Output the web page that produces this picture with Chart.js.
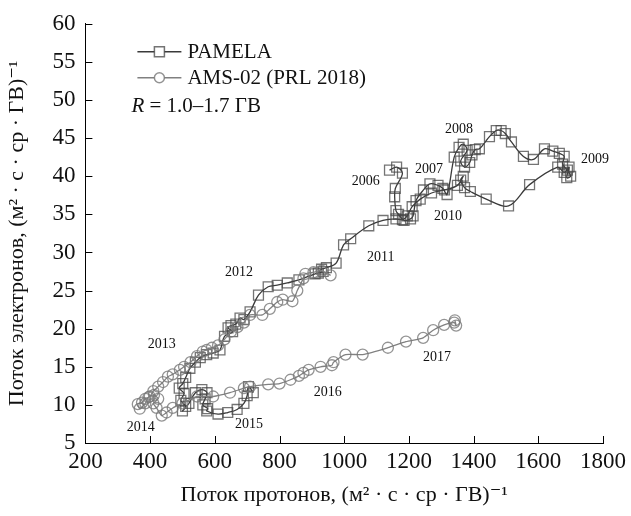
<!DOCTYPE html>
<html>
<head>
<meta charset="utf-8">
<script src="https://cdn.jsdelivr.net/npm/chart.js@4.4.1/dist/chart.umd.min.js"></script>
<style>
  html, body { margin: 0; padding: 0; background: #fff; }
  #wrap { width: 631px; height: 516px; }
</style>
</head>
<body>
<div id="wrap"><canvas id="chart" width="631" height="516"></canvas></div>
<script>
// PAMELA, протоны (x) и электроны (y), 2006 -> 2015
const pamelaX = [1140, 1162, 1180, 1158, 1156, 1160, 1168,
  1185, 1205, 1213, 1222, 1245, 1265, 1290, 1305, 1318, 1340,
  1355, 1368, 1380, 1360, 1372, 1388, 1395, 1405, 1418, 1449, 1470, 1485, 1498, 1517, 1554, 1585, 1619, 1645, 1665, 1680,
  1675, 1690, 1700, 1688, 1695, 1680, 1660,
  1573, 1508, 1439, 1390, 1372, 1360, 1368, 1350,
  1310, 1270, 1235, 1210, 1195, 1180, 1160, 1120, 1076, 1020, 998, 975, 945, 930, 920, 935, 910,
  860, 824, 793, 765, 735, 709, 690, 678, 665, 650, 641, 655, 630,
  616, 595, 575, 555, 540, 523, 510, 501,
  490, 505, 495, 510, 500, 520, 540, 560, 576, 570, 563, 578, 575,
  610, 640, 669, 690, 700, 704, 719];
const pamelaY = [40.8, 41.2, 40.4, 38.4, 37.3, 35.5, 35.0,
  34.2, 34.4, 34.8, 36.8, 38.2, 39.0, 38.8, 38.4, 37.6, 42.5,
  43.8, 44.2, 43.4, 42.0, 41.2, 41.8, 42.8, 43.5, 43.6, 45.2, 46.0, 46.0, 45.6, 44.5, 42.6, 42.2, 43.6, 43.3, 43.0, 42.6,
  41.6, 40.8, 40.0, 39.8, 41.2, 40.5, 41.2,
  38.9, 36.1, 37.0, 38.0, 38.5, 39.5, 40.0, 38.8,
  38.2, 37.8, 37.0, 36.0, 34.8, 34.3, 34.4, 34.2, 33.5, 31.8, 31.0, 28.6, 28.0, 27.8, 27.3, 27.5, 27.2,
  26.4, 26.0, 25.7, 25.5, 24.4, 22.2, 21.2, 21.4, 20.6, 20.4, 20.1, 19.6, 19.0,
  17.2, 16.8, 16.6, 16.2, 15.6, 14.8, 13.6, 12.8,
  12.2, 11.5, 10.6, 9.8, 9.2, 10.2, 11.6, 12.0, 11.6, 10.8, 10.0, 9.5, 9.2,
  8.8, 9.0, 9.4, 10.2, 11.2, 12.4, 11.6];

// AMS-02 (PRL 2018), 2011 -> 2017
const amsX = [958, 930, 905, 880, 874, 855, 840, 810, 793, 770, 747, 709, 690, 670, 650, 630, 610, 591, 575, 563,
  545, 525, 505, 492, 470, 455, 440, 425, 410, 399, 385, 375, 362, 368, 385, 395, 412, 425, 410, 420, 436, 451,
  470, 500, 545, 595, 647, 690, 709, 765, 800, 834, 860, 874, 890, 927, 962, 967, 1004, 1057, 1135, 1191,
  1244, 1275, 1309, 1340, 1346, 1342];
const amsY = [27.0, 27.6, 27.4, 27.2, 26.6, 25.0, 23.6, 23.8, 23.5, 22.6, 21.8, 21.8, 20.8, 20.2, 19.6, 18.6, 17.8, 17.5, 17.2, 17.0,
  16.4, 15.6, 15.0, 14.6, 14.0, 13.7, 13.0, 12.4, 11.8, 11.1, 10.8, 10.3, 10.1, 9.5, 10.2, 11.0, 11.3, 10.8, 10.2, 9.6, 8.6, 9.0,
  9.6, 10.2, 11.1, 11.1, 11.6, 12.2, 12.4, 12.7, 12.8, 13.3, 13.8, 14.2, 14.6, 15.0, 15.2, 15.6, 16.6, 16.6, 17.5, 18.3,
  18.8, 19.8, 20.5, 20.8, 20.4, 21.1];

// подписи годов
const yearText = ['2006', '2007', '2008', '2009', '2010', '2011', '2012', '2013', '2014', '2015', '2016', '2017'];
const yearX = [1067, 1262, 1355, 1775, 1321, 1113, 675, 436, 371, 706, 949, 1287];
const yearY = [39.3, 40.9, 46.1, 42.2, 34.8, 29.3, 27.4, 17.9, 7.1, 7.5, 11.6, 16.3];

const xTicks = [200, 400, 600, 800, 1000, 1200, 1400, 1600, 1800];
const yTicks = [5, 10, 15, 20, 25, 30, 35, 40, 45, 50, 55, 60];

const serif = '"Liberation Serif", "DejaVu Serif", serif';
const pamelaLine = '#3a3a3a';
const pamelaMark = 'rgba(70,70,70,0.75)';
const amsLine = '#808080';
const amsMark = 'rgba(120,120,120,0.8)';

function toPoints(xs, ys) {
  return xs.map((x, i) => ({ x: x, y: ys[i] }));
}

// подписи, легенда и внутренние засечки
const extras = {
  id: 'extras',
  afterDraw(chart) {
    const ctx = chart.ctx;
    const sx = chart.scales.x, sy = chart.scales.y;
    const area = chart.chartArea;
    ctx.save();
    ctx.strokeStyle = '#000';
    ctx.lineWidth = 1;
    ctx.beginPath();
    xTicks.forEach(v => {
      const px = Math.round(sx.getPixelForValue(v)) + 0.5;
      ctx.moveTo(px, area.bottom);
      ctx.lineTo(px, area.bottom - 7);
    });
    yTicks.forEach(v => {
      const py = Math.round(sy.getPixelForValue(v)) + 0.5;
      ctx.moveTo(area.left, py);
      ctx.lineTo(area.left + 7, py);
    });
    ctx.stroke();

    ctx.fillStyle = '#111';
    ctx.font = '14px ' + serif;
    ctx.textAlign = 'center';
    ctx.textBaseline = 'middle';
    yearText.forEach((t, i) => {
      ctx.fillText(t, sx.getPixelForValue(yearX[i]), sy.getPixelForValue(yearY[i]));
    });

    // легенда
    const items = [
      { label: 'PAMELA', line: pamelaLine, mark: pamelaMark, shape: 'rect' },
      { label: 'AMS-02 (PRL 2018)', line: amsLine, mark: amsMark, shape: 'circle' }
    ];
    const lx = area.left + 52, ly = area.top + 28;
    items.forEach((it, i) => {
      const y = ly + i * 26;
      ctx.strokeStyle = it.line;
      ctx.lineWidth = 1.5;
      ctx.beginPath();
      ctx.moveTo(lx, y);
      ctx.lineTo(lx + 44, y);
      ctx.stroke();
      ctx.strokeStyle = it.mark;
      ctx.beginPath();
      if (it.shape === 'rect') ctx.rect(lx + 17, y - 5, 10, 10);
      else ctx.arc(lx + 22, y, 5, 0, Math.PI * 2);
      ctx.fillStyle = '#fff';
      ctx.fill();
      ctx.stroke();
      ctx.fillStyle = '#111';
      ctx.font = '21px ' + serif;
      ctx.textAlign = 'left';
      ctx.fillText(it.label, lx + 50, y + 1);
    });
    const ry = ly + 55;
    ctx.font = 'italic 21px ' + serif;
    ctx.fillText('R', lx - 6, ry);
    const rw = ctx.measureText('R').width;
    ctx.font = '21px ' + serif;
    ctx.fillText(' = 1.0–1.7 ГВ', lx - 6 + rw, ry);
    ctx.restore();
  }
};

new Chart(document.getElementById('chart'), {
  type: 'scatter',
  data: {
    datasets: [
      {
        label: 'AMS-02 (PRL 2018)',
        data: toPoints(amsX, amsY),
        showLine: true,
        borderColor: amsLine,
        borderWidth: 1.3,
        tension: 0.2,
        pointStyle: 'circle',
        pointRadius: 5.5,
        pointBorderWidth: 1.3,
        pointBorderColor: amsMark,
        pointBackgroundColor: 'rgba(0,0,0,0)'
      },
      {
        label: 'PAMELA',
        data: toPoints(pamelaX, pamelaY),
        showLine: true,
        borderColor: pamelaLine,
        borderWidth: 1.3,
        tension: 0.35,
        pointStyle: 'rect',
        pointRadius: 7,
        pointBorderWidth: 1.3,
        pointBorderColor: pamelaMark,
        pointBackgroundColor: 'rgba(0,0,0,0)'
      }
    ]
  },
  options: {
    responsive: false,
    animation: false,
    layout: { padding: { left: 4, right: 8, top: 14, bottom: 8 } },
    plugins: {
      legend: { display: false },
      tooltip: { enabled: false }
    },
    scales: {
      x: {
        type: 'linear',
        min: 200,
        max: 1800,
        afterBuildTicks: axis => { axis.ticks = xTicks.map(v => ({ value: v })); },
        grid: { drawOnChartArea: false, drawTicks: false },
        border: { display: true, color: '#000', width: 1 },
        ticks: { color: '#111', font: { family: serif, size: 23 }, padding: 5, callback: v => String(v) },
        title: {
          display: true,
          text: 'Поток протонов, (м² · с · ср · ГВ)⁻¹',
          color: '#111',
          font: { family: serif, size: 22 },
          padding: { top: 1, bottom: 0 }
        }
      },
      y: {
        type: 'linear',
        min: 5,
        max: 60,
        afterBuildTicks: axis => { axis.ticks = yTicks.map(v => ({ value: v })); },
        grid: { drawOnChartArea: false, drawTicks: false },
        border: { display: true, color: '#000', width: 1 },
        ticks: { color: '#111', font: { family: serif, size: 23 }, padding: 10 },
        title: {
          display: true,
          text: 'Поток электронов, (м² · с · ср · ГВ)⁻¹',
          color: '#111',
          font: { family: serif, size: 22 },
          padding: { top: 0, bottom: 12 }
        }
      }
    }
  },
  plugins: [extras]
});
</script>
</body>
</html>
